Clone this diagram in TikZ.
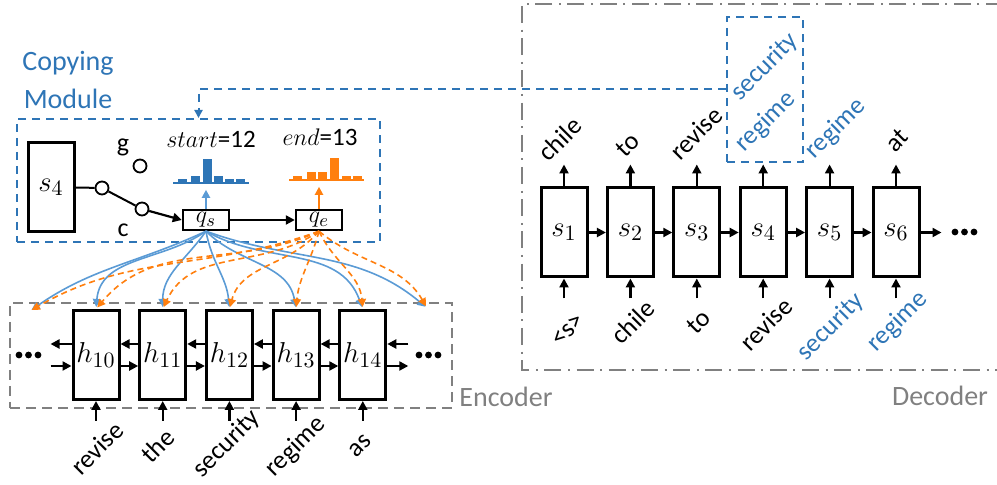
\documentclass[tikz,border=0pt]{standalone}
\usepackage{fontspec}
\setmainfont{Carlito}
\usetikzlibrary{arrows.meta,positioning}
\definecolor{cblue}{HTML}{2E75B6}
\definecolor{lblue}{HTML}{5B9BD5}
\definecolor{corange}{HTML}{FF7F0E}
\definecolor{cgray}{HTML}{808080}

\begin{document}
\begin{tikzpicture}[x=0.5pt,y=-0.5pt,
    cell/.style={draw,line width=1.5pt,minimum width=23pt,minimum height=44.5pt,inner sep=0pt,font=\fontsize{15.5}{17}\selectfont},
    qbox/.style={draw,line width=1.2pt,minimum width=23pt,minimum height=10pt,inner sep=0pt,font=\fontsize{13}{14}\selectfont},
    word/.style={rotate=45,inner sep=0pt,font=\fontsize{13}{15}\selectfont},
    knob/.style={circle,draw,line width=0.9pt,minimum size=6.5pt,inner sep=0pt},
    arr/.style={-{Triangle[length=4.5pt,width=4.5pt]},line width=1.1pt},
    bcurve/.style={-{Triangle[length=4pt,width=4pt]},lblue,line width=0.8pt,shorten >=1pt},
    ocurve/.style={-{Triangle[length=4pt,width=4pt]},corange,line width=0.8pt,dash pattern=on 3pt off 2pt,shorten >=1pt}]
  \useasboundingbox (0,0) rectangle (997,485);

  % decoder
  \draw[cgray,line width=1.2pt,dash pattern=on 8.5pt off 3.3pt on 1pt off 3.3pt] (1003,4) -- (522,4) -- (522,370) -- (1003,370);
  \node[cgray,font=\fontsize{14}{16}\selectfont] (dec) at (940,396) {Decoder};
  \foreach \i in {1,...,6}
    \node[cell] (s\i) at ({564+66.4*(\i-1)},232.5) {$s_{\i}$};
  \foreach \a/\b in {1/2,2/3,3/4,4/5,5/6}
    \draw[arr] (s\a.east) -- (s\b.west);
  \draw[arr] (s6.east) -- ++(21,0);
  \foreach \x in {955,964.5,974} \fill (\x,232) circle (1.7pt);
  \foreach \i in {1,...,6} {
    \draw[arr] (s\i.north) -- ([yshift=11pt]s\i.north);
    \draw[arr] ([yshift=-10pt]s\i.south) -- (s\i.south);
  }
  % outputs
  \node[word] (o1) at (560,139) {chile};
  \node[word] (o2) at (628,145) {to};
  \node[word] (o3) at (696,133) {revise};
  \node[word,cblue] (o4a) at (765,67) {security};
  \node[word,cblue] (o4b) at (766,122) {regime};
  \node[word,cblue] (o5) at (836,129) {regime};
  \node[word] (o6) at (897,140) {at};
  \node[draw=cblue,line width=1pt,dash pattern=on 4pt off 3pt,minimum width=38pt,minimum height=72.5pt] (sel) at (765,89.5) {};
  % inputs
  \node[word] (i1) at (568,330) {<s>};
  \node[word] (i2) at (633,322) {chile};
  \node[word] (i3) at (699,322) {to};
  \node[word] (i4) at (766,324) {revise};
  \node[word,cblue] (i5) at (831,327) {security};
  \node[word,cblue] (i6) at (898,322) {regime};

  % encoder
  \node[draw=cgray,line width=1pt,dash pattern=on 5pt off 3pt,minimum width=221pt,minimum height=52.5pt] (enc) at (231,355.5) {};
  \node[cgray,font=\fontsize{14}{16}\selectfont] (enclab) at (506,397) {Encoder};
  \foreach \i [count=\k from 0] in {10,...,14}
    \node[cell] (h\i) at ({96+66.7*\k},355) {$h_{\i}$};
  \foreach \a/\b in {10/11,11/12,12/13,13/14} {
    \draw[arr] ([yshift=5.5pt]h\b.west) -- ([yshift=5.5pt]h\a.east);
    \draw[arr] ([yshift=-5.5pt]h\a.east) -- ([yshift=-5.5pt]h\b.west);
  }
  \draw[arr] ([yshift=5.5pt]h10.west) -- ([yshift=5.5pt,xshift=-10.5pt]h10.west);
  \draw[arr] ([yshift=-5.5pt,xshift=-10.5pt]h10.west) -- ([yshift=-5.5pt]h10.west);
  \draw[arr] ([yshift=5.5pt,xshift=10.5pt]h14.east) -- ([yshift=5.5pt]h14.east);
  \draw[arr] ([yshift=-5.5pt]h14.east) -- ([yshift=-5.5pt,xshift=10.5pt]h14.east);
  \foreach \x in {19,28.5,38} \fill (\x,355) circle (1.7pt);
  \foreach \x in {419,428.5,438} \fill (\x,355) circle (1.7pt);
  \foreach \i in {10,...,14}
    \draw[arr] ([yshift=-10pt]h\i.south) -- (h\i.south);
  \node[word] (w1) at (97,448) {revise};
  \node[word] (w2) at (158,446) {the};
  \node[word] (w3) at (227,444) {security};
  \node[word] (w4) at (296,447) {regime};
  \node[word] (w5) at (360,446) {as};

  % copying module
  \node[cblue,align=center,font=\fontsize{14}{19}\selectfont] (cmlab) at (68,80) {Copying\\Module};
  \node[draw=cblue,line width=1pt,dash pattern=on 4pt off 3pt,minimum width=181.5pt,minimum height=61.5pt] (cm) at (198.5,180.5) {};
  \draw[cblue,line width=1pt,dash pattern=on 4pt off 3pt,-{Triangle[length=4pt,width=4pt]}] (sel.west) -| (cm.north);
  \node[cell] (sf) at (51,187.5) {$s_4$};
  \node[knob] (sa) at (102,188) {};
  \node[knob] (sg) at (140,166) {};
  \node[knob] (sc) at (142,209) {};
  \node[font=\fontsize{13}{15}\selectfont] (glab) at (123,147) {g};
  \node[font=\fontsize{13}{15}\selectfont] (clab) at (123,230) {c};
  \node[qbox] (qs) at (206,220) {$q_s$};
  \node[qbox] (qe) at (319,220) {$q_e$};
  \draw[line width=1pt] (sf.east) -- (sa);
  \draw[line width=1pt] (sa) -- (sc);
  \draw[arr] (sc) -- (qs.west);
  \draw[arr] (qs) -- (qe);
  % distributions
  \draw[cblue,line width=1pt] (173,183) -- (249,183);
  \foreach \x/\h in {178/4,191/7,203/24,214/7,225/4,236/4}
    \fill[cblue] (\x,183) rectangle ++(8.5,-\h);
  \draw[corange,line width=1pt] (289,180) -- (364,180);
  \foreach \x/\h in {293/4,307/8,318/8,330/22,342/4,353/4}
    \fill[corange] (\x,180) rectangle ++(9,-\h);
  \draw[-{Triangle[length=4pt,width=4pt]},lblue,line width=1pt] (qs.north) -- ([yshift=9.5pt]qs.north);
  \draw[-{Triangle[length=4pt,width=4pt]},corange,line width=1pt] (qe.north) -- ([yshift=11pt]qe.north);
  \node[font=\fontsize{12.5}{14}\selectfont] (stlab) at (211,139) {$start$=12};
  \node[font=\fontsize{12.5}{14}\selectfont] (enlab) at (320,137) {$end$=13};

  % attention
  \coordinate (pl) at (30,311);
  \coordinate (pr) at (427,308);
  \foreach \t/\o/\n in {pl/205/35,h10.north/215/85,h11.north/235/90,h12.north/-80/95,h13.north/-45/100,h14.north/-30/110,pr/-20/140}
    \draw[bcurve] (qs.south) to[out=\o,in=\n] (\t);
  \foreach \t/\o/\n in {pl/200/30,h10.north/205/50,h11.north/215/65,h12.north/230/75,h13.north/255/85,h14.north/-65/95,pr/-40/120}
    \draw[ocurve] (qe.south) to[out=\o,in=\n] (\t);
\end{tikzpicture}
\end{document}
